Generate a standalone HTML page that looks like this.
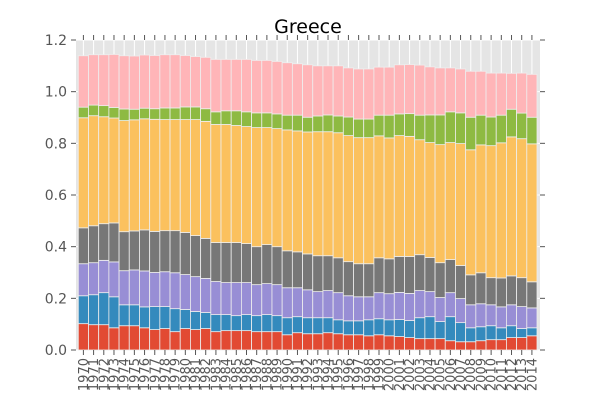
<!DOCTYPE html>
<html><head><meta charset="utf-8"><style>
html,body{margin:0;padding:0;background:#fff;}
svg{display:block;font-family:"DejaVu Sans","Liberation Sans",sans-serif;}
</style></head><body>
<svg id="chart" width="600" height="400" viewBox="0 0 600 400" xmlns="http://www.w3.org/2000/svg">
<text x="308" y="33" text-anchor="middle" font-size="19" fill="#000">Greece</text>
<g id="plot"></g>
</svg>
<script>
const years = [];
for (let y = 1970; y <= 2014; y++) years.push(String(y));
const s1 = [.102,.098,.098,.086,.094,.094,.086,.079,.083,.071,.083,.079,.083,.071,.075,.075,.075,.071,.071,.071,.059,.067,.063,.063,.067,.063,.059,.059,.055,.059,.055,.052,.048,.044,.044,.044,.036,.032,.032,.036,.040,.040,.048,.048,.055];
const s2 = [.108,.116,.124,.120,.081,.081,.081,.089,.085,.089,.074,.070,.062,.066,.062,.058,.062,.062,.066,.062,.066,.062,.062,.062,.058,.054,.054,.054,.062,.062,.062,.066,.066,.081,.085,.066,.093,.074,.054,.054,.054,.046,.046,.035,.031];
const s3 = [.124,.124,.125,.135,.132,.135,.139,.132,.135,.139,.135,.135,.132,.128,.124,.128,.124,.120,.120,.120,.116,.112,.108,.101,.105,.105,.097,.093,.089,.101,.101,.105,.105,.105,.097,.093,.093,.093,.089,.089,.081,.081,.081,.085,.077];
const s4 = [.139,.143,.142,.151,.151,.151,.159,.159,.159,.163,.163,.159,.155,.151,.155,.155,.151,.147,.151,.147,.143,.139,.139,.139,.135,.135,.132,.128,.128,.135,.135,.139,.143,.139,.132,.135,.128,.128,.116,.120,.105,.112,.112,.112,.101];
const s5 = [.426,.426,.414,.406,.430,.430,.430,.434,.430,.430,.437,.449,.453,.457,.457,.453,.453,.461,.453,.457,.468,.468,.472,.480,.480,.484,.488,.488,.488,.472,.468,.468,.465,.445,.445,.457,.453,.472,.484,.495,.511,.523,.538,.538,.534];
const s6 = [.041,.041,.043,.041,.045,.041,.041,.041,.045,.045,.049,.049,.049,.049,.053,.057,.057,.057,.057,.057,.057,.061,.057,.061,.065,.065,.072,.072,.072,.080,.088,.084,.088,.095,.107,.115,.119,.119,.126,.115,.111,.107,.107,.099,.103];
const s7 = [.199,.195,.197,.205,.206,.206,.206,.206,.206,.206,.199,.195,.199,.203,.199,.199,.203,.203,.203,.203,.203,.199,.203,.194,.190,.194,.190,.194,.194,.186,.186,.190,.190,.194,.186,.182,.170,.170,.178,.170,.170,.163,.139,.155,.166];
const seriesList = [s1,s2,s3,s4,s5,s6,s7];
const colors = ["#E24A33","#348ABD","#988ED5","#777777","#FBC15E","#8EBA42","#FFB5B8"];
const yTicks = ["0.0","0.2","0.4","0.6","0.8","1.0","1.2"];

const NS = "http://www.w3.org/2000/svg";
const L = 76, R = 540, T = 40, B = 350;
const yMax = 1.2;
const pitch = (537 - 78.3) / years.length;
const x0 = 78.3;
function xs(i){ return x0 + i * pitch; }
function ys(v){ return B - v / yMax * (B - T); }
function mk(tag, attrs, parent){ const e = document.createElementNS(NS, tag); for (const k in attrs) e.setAttribute(k, attrs[k]); parent.appendChild(e); return e; }
const g = document.getElementById("plot");

const bg = mk("rect", {x:L, y:T, width:R-L, height:B-T, fill:"#E5E5E5"}, g);



yTicks.forEach(t => {
  const y = ys(parseFloat(t));
  const gl = mk("line", {x1:L, x2:R, y1:y, y2:y, stroke:"#fff", "stroke-width":1}, g);
  
  
  const tk = mk("line", {x1:L-5, x2:L, y1:y, y2:y, stroke:"#555", "stroke-width":1}, g);
  
  
  const tk2 = mk("line", {x1:R, x2:R+5, y1:y, y2:y, stroke:"#555", "stroke-width":1}, g);
  
  
  const lb = mk("text", {x:L-9, y:y+5, "text-anchor":"end", "font-size":14, fill:"#555"}, g);
  lb.textContent = t;
  
  
});

years.forEach((yr, i) => {
  const cx = xs(i) + pitch / 2;
  const vg = mk("line", {x1:cx, x2:cx, y1:T, y2:B, stroke:"#fff", "stroke-width":1}, g);
  
  
  let acc = 0;
  seriesList.forEach((s, k) => {
    const v = s[i];
    const r = mk("rect", {x:xs(i), y:ys(acc+v), width:pitch, height:ys(acc)-ys(acc+v), fill:colors[k], stroke:"#EEEEEE", "stroke-width":0.8}, g);
    
    
    acc += v;
  });
  const tb = mk("line", {x1:cx, x2:cx, y1:B, y2:B+5, stroke:"#555", "stroke-width":1}, g);
  
  
  const tt = mk("line", {x1:cx, x2:cx, y1:T-5, y2:T, stroke:"#555", "stroke-width":1}, g);
  
  
  const lb = mk("text", {x:0, y:0, "text-anchor":"end", "font-size":13, fill:"#555", transform:"translate(" + (cx+4.5) + "," + (B+8) + ") rotate(-90)"}, g);
  lb.textContent = yr;
  
  
});
</script>
</body></html>
